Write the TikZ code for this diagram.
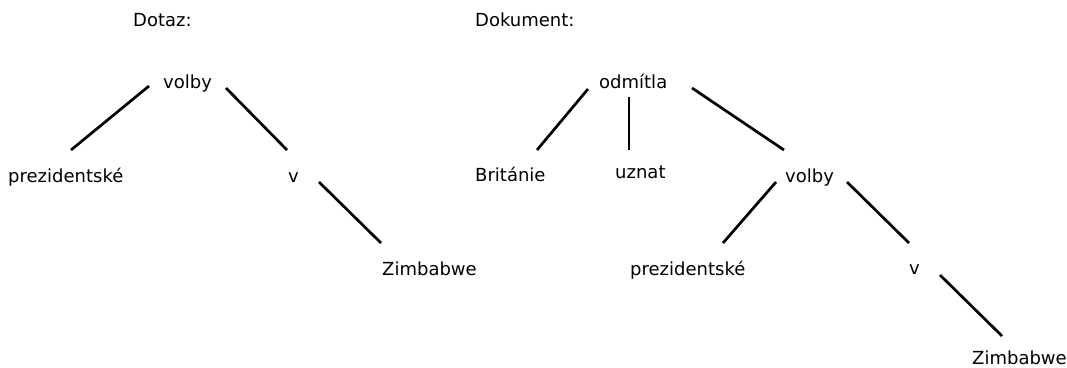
\documentclass[tikz,border=0pt]{standalone}
\usepackage{fontspec}
\setmainfont{DejaVu Sans}
\begin{document}
\begin{tikzpicture}[x=1pt,y=-1pt,
  lbl/.style={anchor=base west,inner sep=0pt,font=\fontsize{18}{20}\selectfont},
  edge/.style={line width=2.7pt}]
\useasboundingbox (0,0) rectangle (1067,367);
% titles
\node[lbl] (tq) at (133,26) {Dotaz:};
\node[lbl] (td) at (475,26) {Dokument:};
% query tree
\node[lbl] (v1) at (163,88) {volby};
\node[lbl] (p1) at (8,182) {prezidentské};
\node[lbl] (vv1) at (288,182) {v};
\node[lbl] (z1) at (382,275) {Zimbabwe};
% document tree
\node[lbl] (o) at (599,88) {odmítla};
\node[lbl] (b) at (475,181) {Británie};
\node[lbl] (u) at (615,178) {uznat};
\node[lbl] (v2) at (785,182) {volby};
\node[lbl] (p2) at (630,275) {prezidentské};
\node[lbl] (vv2) at (909,274) {v};
\node[lbl] (z2) at (972,364) {Zimbabwe};
% edges
\draw[edge] ([shift={(-14,-2)}]v1.base west) -- ([shift={(63,-32)}]p1.base west);
\draw[edge] ([shift={(63,0)}]v1.base west) -- ([shift={(-1,-32)}]vv1.base west);
\draw[edge] ([shift={(31,0)}]vv1.base west) -- ([shift={(-1,-32)}]z1.base west);
\draw[edge] ([shift={(-11,1)}]o.base west) -- ([shift={(62,-31)}]b.base west);
\draw[edge] ([shift={(30,9)}]o.base west) -- ([shift={(14,-28)}]u.base west);
\draw[edge] ([shift={(93,0)}]o.base west) -- ([shift={(-1,-32)}]v2.base west);
\draw[edge] ([shift={(-9,0)}]v2.base west) -- ([shift={(93,-32)}]p2.base west);
\draw[edge] ([shift={(62,0)}]v2.base west) -- ([shift={(0,-31)}]vv2.base west);
\draw[edge] ([shift={(31,1)}]vv2.base west) -- ([shift={(30,-28)}]z2.base west);
\end{tikzpicture}
\end{document}
